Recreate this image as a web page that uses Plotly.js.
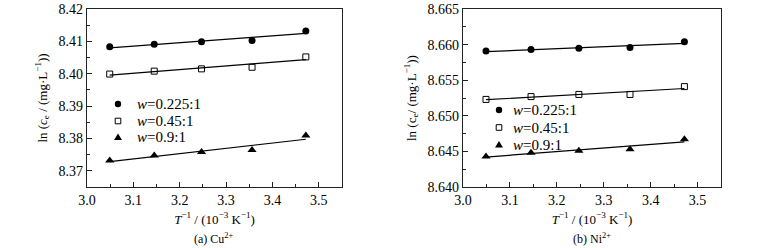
<!DOCTYPE html>
<html>
<head>
<meta charset="utf-8">
<script src="https://cdn.plot.ly/plotly-3.0.1.min.js"></script>
<style>html,body{margin:0;padding:0;background:#fff;}#chart{width:772px;height:248px;}</style>
</head>
<body>
<div id="chart"></div>
<script>
// x values: T^-1 / (10^-3 K^-1)
const invT = [3.049, 3.145, 3.247, 3.356, 3.472];

// (a) Cu2+  ln(ce/(mg·L-1))
const cu_w0225 = [8.4083, 8.4091, 8.4099, 8.4103, 8.4132];
const cu_w045  = [8.3999, 8.4008, 8.4015, 8.4020, 8.4052];
const cu_w09   = [8.3732, 8.3747, 8.3758, 8.3764, 8.3809];

// (b) Ni2+
const ni_w0225 = [8.6591, 8.6593, 8.6595, 8.6596, 8.6604];
const ni_w045  = [8.6523, 8.6527, 8.6530, 8.6530, 8.6541];
const ni_w09   = [8.6443, 8.6448, 8.6451, 8.6453, 8.6467];

const seriesNames = ['<i>w</i>=0.225:1', '<i>w</i>=0.45:1', '<i>w</i>=0.9:1'];
const panelCaptions = ['(a) Cu<sup>2+</sup>', '(b) Ni<sup>2+</sup>'];
const xTitle = '<i>T</i><sup>−1</sup> / (10<sup>−3</sup> K<sup>−1</sup>)';
const yTitleCu = 'ln (<i>c</i><sub>e</sub> / (mg·L<sup>−1</sup>))';
const yTitleNi = 'ln (c<sub>e</sub>/ (mg·L<sup>−1</sup>))';

const FONT = 'Liberation Serif, Times New Roman, serif';
const W = 772, H = 248;
const symbols = [
  {symbol: 'circle', size: 7, color: '#000', line: {width: 0}},
  {symbol: 'square-open', size: 6, color: '#000', line: {width: 1, color: '#000'}},
  {symbol: 'triangle-up', size: 8, color: '#000', line: {width: 0}}
];

function fit(xs, ys) {
  const n = xs.length;
  const mx = xs.reduce((a, b) => a + b, 0) / n;
  const my = ys.reduce((a, b) => a + b, 0) / n;
  let sxy = 0, sxx = 0;
  for (let i = 0; i < n; i++) { sxy += (xs[i] - mx) * (ys[i] - my); sxx += (xs[i] - mx) ** 2; }
  const b = sxy / sxx, a = my - b * mx;
  const x0 = xs[0], x1 = xs[n - 1];
  return {x: [x0, x1], y: [a + b * x0, a + b * x1]};
}

const traces = [];
function addPanel(sets, xa, ya) {
  sets.forEach((ys) => {
    const f = fit(invT, ys);
    traces.push({x: f.x, y: f.y, xaxis: xa, yaxis: ya, mode: 'lines', type: 'scatter',
      line: {color: '#000', width: 1.2}, showlegend: false, hoverinfo: 'skip'});
  });
  sets.forEach((ys, i) => {
    traces.push({x: invT, y: ys, xaxis: xa, yaxis: ya, mode: 'markers', type: 'scatter',
      name: seriesNames[i], marker: symbols[i], showlegend: false});
  });
}
addPanel([cu_w0225, cu_w045, cu_w09], 'x', 'y');
addPanel([ni_w0225, ni_w045, ni_w09], 'x2', 'y2');

// legend keys (drawn as layout shapes + text annotations)
const shapes = [], annotations = [];
function px(x) { return x / W; }
function py(y) { return 1 - y / H; }
function addLegend(mx, rows, tx, fs) {
  rows.forEach((ry, i) => {
    if (i === 0) {
      const r = 3.2;
      shapes.push({type: 'circle', xref: 'paper', yref: 'paper', x0: px(mx - r), x1: px(mx + r),
        y0: py(ry + r), y1: py(ry - r), fillcolor: '#000', line: {width: 0}});
    } else if (i === 1) {
      const r = 2.8;
      shapes.push({type: 'rect', xref: 'paper', yref: 'paper', x0: px(mx - r), x1: px(mx + r),
        y0: py(ry + r), y1: py(ry - r), fillcolor: 'rgba(0,0,0,0)', line: {width: 1, color: '#000'}});
    } else {
      const r = 4;
      const p = 'M' + px(mx - r) + ',' + py(ry + r * 0.75) + ' L' + px(mx + r) + ',' + py(ry + r * 0.75) +
        ' L' + px(mx) + ',' + py(ry - r * 0.9) + ' Z';
      shapes.push({type: 'path', xref: 'paper', yref: 'paper', path: p, fillcolor: '#000', line: {width: 0}});
    }
    annotations.push({text: seriesNames[i], xref: 'paper', yref: 'paper', x: px(tx), y: py(ry),
      xanchor: 'left', yanchor: 'middle', showarrow: false,
      font: {family: FONT, size: fs, color: '#000'}});
  });
}
addLegend(118, [104, 121, 137], 135, 15);
addLegend(499, [110, 127.5, 144.5], 511, 15);

annotations.push(
  {text: panelCaptions[0], xref: 'paper', yref: 'paper', x: px(214), y: py(238),
    xanchor: 'center', yanchor: 'middle', showarrow: false, font: {family: FONT, size: 12, color: '#000'}},
  {text: panelCaptions[1], xref: 'paper', yref: 'paper', x: px(592), y: py(238),
    xanchor: 'center', yanchor: 'middle', showarrow: false, font: {family: FONT, size: 12, color: '#000'}}
);

const axisCommon = {
  showline: true, linecolor: '#222', linewidth: 1.2, mirror: true,
  ticks: 'inside', ticklen: 5, tickwidth: 1, tickcolor: '#222',
  showgrid: false, zeroline: false,
  tickfont: {family: FONT, size: 14, color: '#000'}
};

const xBase = Object.assign({}, axisCommon, {
  range: [3.0, 3.55], tickvals: [3.0, 3.1, 3.2, 3.3, 3.4, 3.5],
  ticktext: ['3.0', '3.1', '3.2', '3.3', '3.4', '3.5'],
  minor: {tickvals: [3.05, 3.15, 3.25, 3.35, 3.45], ticks: 'inside', ticklen: 3, tickcolor: '#222'},
  title: {text: xTitle, font: {family: FONT, size: 13, color: '#000'}, standoff: 7}
});

const layout = {
  width: W, height: H,
  margin: {l: 0, r: 0, t: 0, b: 0},
  paper_bgcolor: '#fff', plot_bgcolor: '#fff',
  font: {family: FONT, color: '#000'},
  showlegend: false,
  xaxis: Object.assign({}, xBase, {domain: [87 / W, 342 / W], anchor: 'y'}),
  xaxis2: Object.assign({}, xBase, {domain: [463 / W, 721 / W], anchor: 'y2'}),
  yaxis: Object.assign({}, axisCommon, {
    domain: [1 - 187 / H, 1 - 9 / H], anchor: 'x',
    range: [8.365, 8.42], tickvals: [8.37, 8.38, 8.39, 8.40, 8.41, 8.42],
    ticktext: ['8.37', '8.38', '8.39', '8.40', '8.41', '8.42'],
    minor: {tickvals: [8.365, 8.375, 8.385, 8.395, 8.405, 8.415], ticks: 'inside', ticklen: 3, tickcolor: '#222'},
    title: {text: yTitleCu, font: {family: FONT, size: 13, color: '#000'}, standoff: 8}
  }),
  yaxis2: Object.assign({}, axisCommon, {
    domain: [1 - 187 / H, 1 - 9 / H], anchor: 'x2',
    range: [8.640, 8.665], tickvals: [8.640, 8.645, 8.650, 8.655, 8.660, 8.665],
    ticktext: ['8.640', '8.645', '8.650', '8.655', '8.660', '8.665'],
    minor: {tickvals: [8.6425, 8.6475, 8.6525, 8.6575, 8.6625], ticks: 'inside', ticklen: 3, tickcolor: '#222'},
    title: {text: yTitleNi, font: {family: FONT, size: 13, color: '#000'}, standoff: 8}
  }),
  shapes: shapes,
  annotations: annotations
};

Plotly.newPlot('chart', traces, layout, {displayModeBar: false, staticPlot: true});
</script>
</body>
</html>
